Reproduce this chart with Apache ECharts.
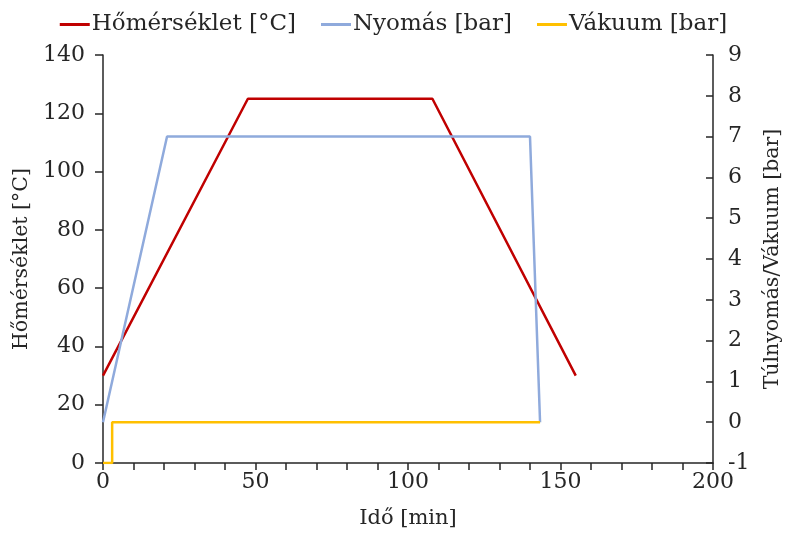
<!DOCTYPE html>
<html><head><meta charset="utf-8">
<script src="https://cdn.jsdelivr.net/npm/echarts@6/dist/echarts.min.js"></script>
<style>html,body{margin:0;padding:0;background:#fff}#c{width:787px;height:548px}</style>
</head><body><div id="c"></div>
<script>
const tempTime = [0, 47.5, 108, 155];
const tempVal = [30, 125, 125, 30];
const pressTime = [0, 21, 140, 143.3];
const pressVal = [0, 7, 7, 0];
const vacTime = [0, 3, 3, 143.3];
const vacVal = [-1, -1, 0, 0];
const names = ['Hőmérséklet [°C]', 'Nyomás [bar]', 'Vákuum [bar]'];
const xName = 'Idő [min]';
const yLeftName = 'Hőmérséklet [°C]';
const yRightName = 'Túlnyomás/Vákuum [bar]';

const zip = (a, b) => a.map((v, i) => [v, b[i]]);
const font = 'DejaVu Serif';
const txt = '#262626';
const axisCol = '#262626';
const fsTick = 22;
const fsName = 20.5;
const fsLegend = 23;

const chart = echarts.init(document.getElementById('c'));
chart.setOption({
  animation: false,
  textStyle: { fontFamily: font },
  legend: {
    top: 8, left: 'center',
    icon: 'rect', itemWidth: 30, itemHeight: 3, itemGap: 25,
    textStyle: { fontFamily: font, fontSize: fsLegend, color: txt, padding: [0, 0, 0, -3] },
    data: names
  },
  grid: { left: 103, right: 74, top: 55, bottom: 85, outerBoundsMode: 'none', containLabel: false },
  xAxis: {
    type: 'value', min: 0, max: 200, interval: 50,
    name: xName, nameLocation: 'middle', nameGap: 45,
    nameTextStyle: { fontFamily: font, fontSize: 21, color: txt },
    axisLine: { lineStyle: { color: axisCol, width: 1.5 } },
    axisTick: { show: true, length: 7, lineStyle: { color: axisCol, width: 1.5 } },
    minorTick: { show: true, splitNumber: 5, length: 7, lineStyle: { color: axisCol, width: 1.5 } },
    axisLabel: { fontFamily: font, fontSize: fsTick, color: txt, margin: 8 },
    splitLine: { show: false }
  },
  yAxis: [{
    type: 'value', min: 0, max: 140, interval: 20, position: 'left',
    name: yLeftName, nameLocation: 'middle', nameGap: 67, nameRotate: 90,
    nameTextStyle: { fontFamily: font, fontSize: fsName, color: txt },
    axisLine: { show: true, lineStyle: { color: axisCol, width: 1.5 } },
    axisTick: { show: true, length: 8, lineStyle: { color: axisCol, width: 1.5 } },
    axisLabel: { fontFamily: font, fontSize: fsTick, color: txt, margin: 18 },
    splitLine: { show: false }
  }, {
    type: 'value', min: -1, max: 9, interval: 1, position: 'right',
    name: yRightName, nameLocation: 'middle', nameGap: 49, nameRotate: 90,
    nameTextStyle: { fontFamily: font, fontSize: fsName, color: txt },
    axisLine: { show: true, lineStyle: { color: axisCol, width: 1.5 } },
    axisTick: { show: true, inside: true, length: 7, lineStyle: { color: axisCol, width: 1.5 } },
    axisLabel: { fontFamily: font, fontSize: fsTick, color: txt, margin: 15 },
    splitLine: { show: false }
  }],
  series: [{
    name: names[0], type: 'line', yAxisIndex: 0, showSymbol: false,
    data: zip(tempTime, tempVal), lineStyle: { color: '#C00000', width: 2.5 }, itemStyle: { color: '#C00000' }
  }, {
    name: names[1], type: 'line', yAxisIndex: 1, showSymbol: false,
    data: zip(pressTime, pressVal), lineStyle: { color: '#8FAADC', width: 2.5 }, itemStyle: { color: '#8FAADC' }
  }, {
    name: names[2], type: 'line', yAxisIndex: 1, showSymbol: false,
    data: zip(vacTime, vacVal), lineStyle: { color: '#FFC000', width: 2.5 }, itemStyle: { color: '#FFC000' }
  }]
});
</script></body></html>
